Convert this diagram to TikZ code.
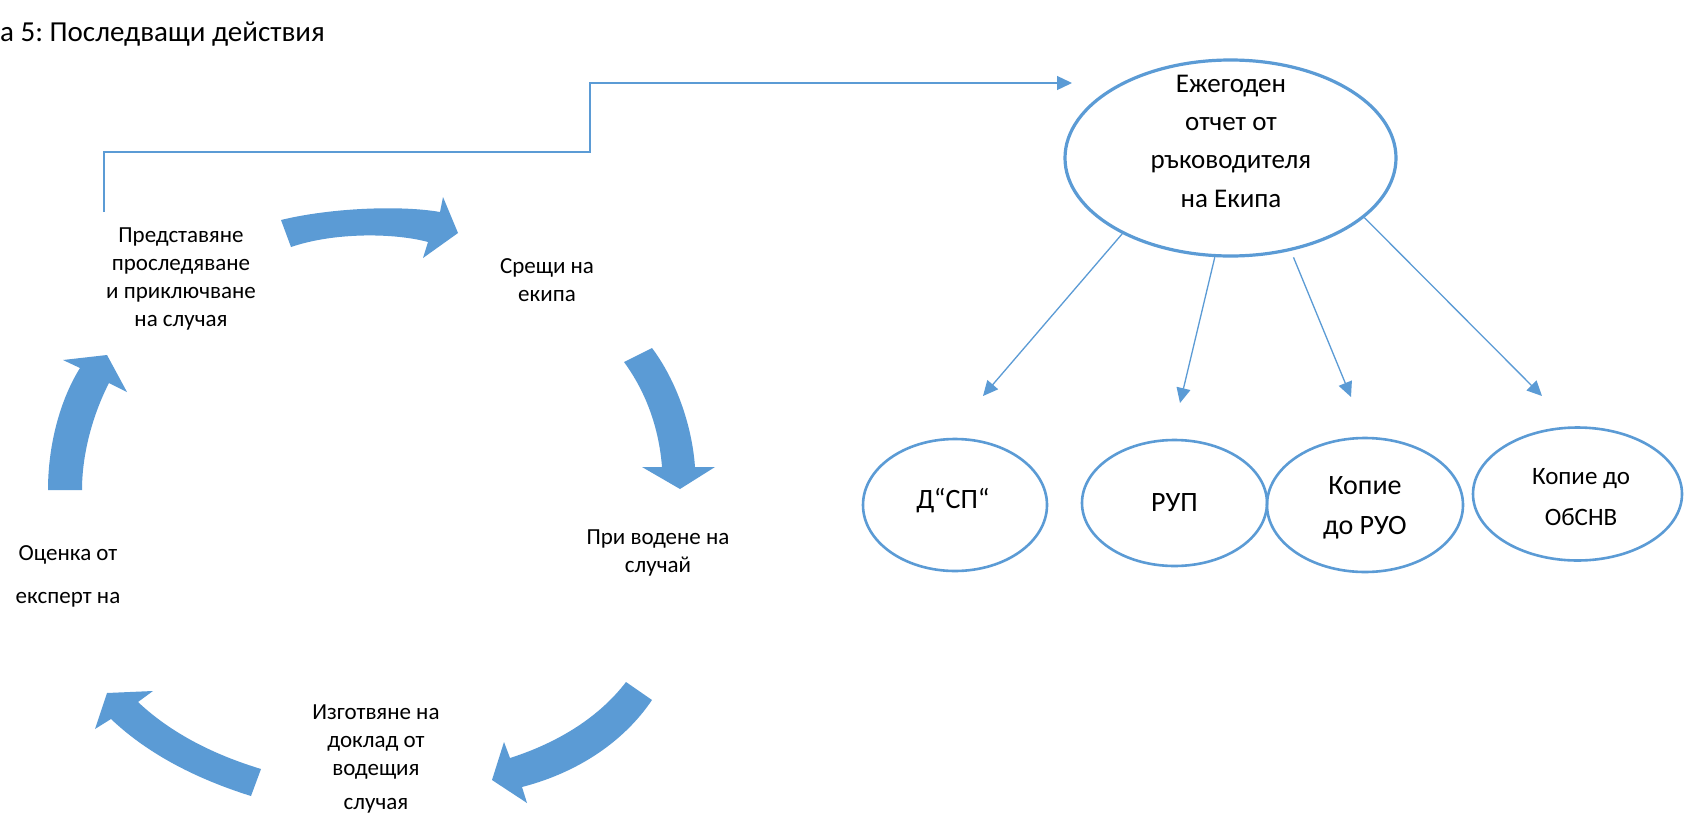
\documentclass[tikz,border=0pt]{standalone}
\usepackage{fontspec}
\setmainfont{Carlito}
\usetikzlibrary{arrows.meta,shapes.geometric}
\definecolor{accent}{HTML}{5B9BD5}
\frenchspacing
\begin{document}
\begin{tikzpicture}[x=1pt,y=-1pt,
  cyc/.style={fill=accent,draw=none},
  conn/.style={draw=accent,line width=1.3pt,-{Triangle[length=15pt,width=14pt]}},
  lbl/.style={align=center,inner sep=0pt,font=\fontsize{23}{28}\selectfont},
  big/.style={draw=accent,line width=3.2pt,ellipse,inner sep=0pt},
  small/.style={draw=accent,line width=2.6pt,ellipse,inner sep=0pt},
  ctext/.style={align=center,inner sep=0pt,font=\fontsize{28}{40}\selectfont}]
\useasboundingbox (0,0) rectangle (1698,817);
\fill[white] (0,0) rectangle (1698,817);

% title
\node[anchor=base west,inner sep=0pt,font=\fontsize{29}{32}\selectfont] (title) at (0,41.7) {а 5: Последващи действия};

% cycle labels
\node[lbl] (pres) at (181,279) {Представяне\\проследяване\\и приключване\\на случая};
\node[lbl] (sre) at (547,280) {Срещи на\\екипа};
\node[lbl] (pri) at (658,553) {При водене на\\случай};
\node[lbl,font=\fontsize{23}{43}\selectfont] (otz) at (68,576) {Оценка от\\експерт на};
\node[lbl] (izg) at (376,759) {Изготвяне на\\доклад от\\водещия\\[6pt]случая};

% cycle arrows
\path[cyc] (281,220) .. controls (330,208) and (400,205) .. (440,212) -- (443,197) -- (458,233) -- (423,258) -- (428,242) .. controls (395,233) and (335,232) .. (291,247) -- cycle;
\path[cyc] (652,348) .. controls (676,380) and (692,425) .. (695,467) -- (715,467) -- (680,489) -- (642,467) -- (662,467) .. controls (659,428) and (646,392) .. (624,362) -- cycle;
\path[cyc] (652,700) .. controls (625,740) and (580,772) .. (522,787) -- (527,803) -- (492,780) -- (504,742) -- (510,758) .. controls (560,742) and (600,716) .. (626,682) -- cycle;
\path[cyc] (251,796) .. controls (200,780) and (150,756) .. (111,719) -- (95,729) -- (107,693) -- (153,691) -- (138,702) .. controls (172,734) and (215,755) .. (261,769) -- cycle;
\path[cyc] (48,490) .. controls (48,445) and (60,400) .. (80,368) -- (63,360) -- (107,355) -- (127,392) -- (109,383) .. controls (95,410) and (82,450) .. (82,490) -- cycle;

% big ellipse
\node[big,minimum width=331pt,minimum height=196pt] (rep) at (1230.5,158) {};
\node[ctext,font=\fontsize{27}{38.3}\selectfont] (reptxt) at (1231,141) {Ежегоден\\отчет от\\ръководителя\\на Екипа};

% small ellipses
\node[small,minimum width=184pt,minimum height=132pt] (dsp) at (955,505) {};
\node[small,minimum width=185pt,minimum height=126pt] (rup) at (1174.5,503) {};
\node[small,minimum width=196pt,minimum height=134pt] (ruo) at (1365,505) {};
\node[small,minimum width=209pt,minimum height=133pt] (obs) at (1577.5,494) {};
\node[ctext] (dsptxt) at (953,501) {Д“СП“};
\node[ctext] (ruptxt) at (1174.5,503) {РУП};
\node[ctext] (ruotxt) at (1365,508) {Копие\\до РУО};
\node[ctext,font=\fontsize{25}{41}\selectfont] (obstxt) at (1581,497) {Копие до\\ОбСНВ};

% connectors
\coordinate (src) at (104,212);
\coordinate (tin) at (1072,83);
\draw[conn] (src) |- (590,152) |- (tin);

\coordinate (t1) at (983,396);
\coordinate (t2) at (1180,403);
\coordinate (t3) at (1351,397);
\coordinate (t4) at (1542,396);
\draw[conn] (rep.215.3) -- (t1);
\draw[conn] (rep.261) -- (t2);
\draw[conn,shorten <=7pt] (rep.303.6) -- (t3);
\draw[conn] (rep.336.25) -- (t4);
\end{tikzpicture}
\end{document}
